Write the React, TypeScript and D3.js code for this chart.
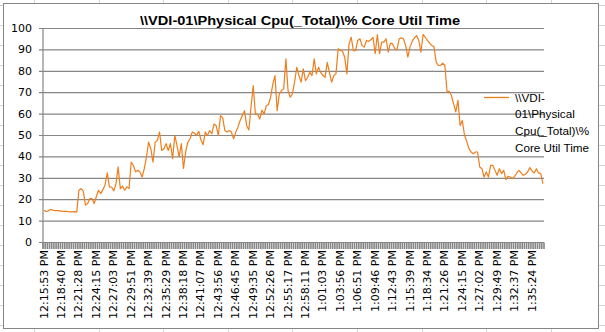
import React from 'react';
import * as d3 from 'd3';

const chartTitle = "\\\\VDI-01\\Physical Cpu(_Total)\\% Core Util Time";
const legendLines = ["\\\\VDI-", "01\\Physical", "Cpu(_Total)\\%", "Core Util Time"];

const timeLabels = [
  "12:15:53 PM", "12:18:40 PM", "12:21:28 PM", "12:24:15 PM", "12:27:03 PM", "12:29:51 PM",
  "12:32:39 PM", "12:35:29 PM", "12:38:18 PM", "12:41:07 PM", "12:43:56 PM", "12:46:45 PM",
  "12:49:35 PM", "12:52:26 PM", "12:55:17 PM", "12:58:11 PM", "1:01:03 PM", "1:03:56 PM",
  "1:06:51 PM", "1:09:46 PM", "1:12:43 PM", "1:15:39 PM", "1:18:34 PM", "1:21:26 PM",
  "1:24:15 PM", "1:27:02 PM", "1:29:49 PM", "1:32:37 PM", "1:35:24 PM",
];
const labelEvery = 8;

const cpuValues = [
  15, 14.5, 14.8, 15.4, 15.1, 14.9, 14.9, 14.8, 14.7, 14.5, 14.6, 14.4, 14.3, 14.3, 14.4, 14.3,
  24.4, 25.2, 24, 17.5, 18.2, 20.5, 20.5, 18.2, 21.5, 24.4, 22.8, 24.7, 27, 32.5,
  26, 25.9, 24.1, 27.5, 35.3, 25.2, 26.3, 24.4, 26, 25.2,
  37.6, 36, 33, 33.8, 33, 30.6, 34.5, 40, 46.9, 43.8,
  37.6, 46.9, 47.7, 51.6, 43, 43.8, 46.2, 43, 46.2, 39.2,
  50, 45.4, 40, 46.2, 34.6, 42.3, 46.9, 48.5, 51.6, 51.1,
  50, 52, 48, 45.7, 51.6, 50, 52.3, 50.8, 55.4, 54.6,
  50, 59.3, 58.2, 52.3, 51.6, 52.3, 51.6, 48.5, 51.6, 53.9,
  57, 59.3, 61.6, 54.6, 52.6, 63.2, 73.3, 60, 60, 57.7,
  61.9, 60, 63.9, 64.5, 67.9, 74, 78, 61.6, 69.4, 71,
  71.8, 85.8, 71, 67.9, 69.4, 74.9, 81.9, 78, 74.9, 81.1,
  75.6, 77.2, 79.5, 78, 85.8, 78.8, 81.9, 79.5, 78, 77.2,
  84.2, 79.5, 74.9, 78, 78.8, 90.5, 89.7, 89.4, 86.6, 78.8,
  92.8, 95.9, 89.7, 89.7, 94.4, 95.2, 92, 91.3, 94.4, 94,
  94.7, 95.9, 88.2, 97.2, 88.2, 93.6, 93.6, 95.2, 89, 93.2,
  92.8, 90.5, 90, 95.2, 95.6, 95.2, 92, 86.6, 91.3, 94,
  95.6, 96.7, 94.4, 89, 97.2, 95.9, 94.4, 93.2, 92, 91.6,
  84.3, 82.7, 82.7, 83.8, 82.7, 70.3, 70.7, 68.7, 64.8, 61,
  66.4, 54.7, 57, 50.2, 47.4, 44, 42.3, 41.5, 42.3, 42.3,
  35.3, 34.5, 30.6, 33, 30.6, 36, 36, 33.7, 31.4, 34.5,
  32.2, 33.7, 29.4, 30.9, 30.6, 29.8, 30.9, 32.5, 33.7, 32.5,
  31.4, 31.9, 33, 35, 33.4, 32.5, 34.5, 32.5, 32.2, 27.5,
];

const yTicks = [0, 10, 20, 30, 40, 50, 60, 70, 80, 90, 100];

const W = 605;
const H = 332;
const plotL = 43;
const plotR = 544;
const plotTop = 28.5;
const plotBottom = 242.5;
const gray = '#868686';
const orange = '#F07D1A';
const axisFont = '"DejaVu Sans", Verdana, sans-serif';
const textFont = '"Liberation Sans", Arial, sans-serif';

export default function App() {
  const idx = cpuValues.map((_, i) => i);
  const x = d3.scaleBand<number>().domain(idx).range([plotL, plotR]).padding(0);
  const xc = (i: number) => (x(i) as number) + x.bandwidth() / 2;
  const y = d3.scaleLinear().domain([0, 100]).range([plotBottom, plotTop]);

  const line = d3
    .line<number>()
    .x((_, i) => xc(i))
    .y((d) => y(d));

  const labelIdx = timeLabels.map((_, k) => k * labelEvery);

  // spreadsheet cell grid behind the chart
  const colLines = d3.range(34, W, 64.6);
  const rowLines = d3.range(5, H, 20);

  const tickBounds = idx.map((i) => x(i) as number).concat([plotR]);

  return (
    <svg width={W} height={H} style={{ position: 'absolute', left: 0, top: 0, background: '#fff' }}>
      {colLines.map((c, i) => (
        <line key={'c' + i} x1={Math.round(c) + 0.5} x2={Math.round(c) + 0.5} y1={0} y2={H} stroke="#D4D4D4" />
      ))}
      {rowLines.map((r, i) => (
        <line key={'r' + i} x1={0} x2={W} y1={r + 0.5} y2={r + 0.5} stroke="#D4D4D4" />
      ))}
      <rect x={3.5} y={3.5} width={595} height={325} fill="#fff" stroke={gray} strokeWidth={1} />

      <text
        x={300}
        y={25}
        textAnchor="middle"
        fontFamily={textFont}
        fontWeight="bold"
        fontSize={13.5}
        textLength={320}
        lengthAdjust="spacingAndGlyphs"
        fill="#000"
      >
        {chartTitle}
      </text>

      {yTicks.map((t) => (
        <g key={'y' + t}>
          <line x1={plotL - 4} x2={plotR} y1={y(t)} y2={y(t)} stroke={gray} strokeWidth={1.2} />
          <text
            x={32}
            y={y(t)}
            textAnchor="end"
            dominantBaseline="central"
            fontFamily={axisFont}
            fontSize={11}
            fill="#000"
          >
            {t}
          </text>
        </g>
      ))}

      <line x1={plotL} x2={plotL} y1={plotTop} y2={plotBottom + 6} stroke={gray} strokeWidth={1.2} />
      {tickBounds.map((b, i) => (
        <line key={'t' + i} x1={b} x2={b} y1={plotBottom} y2={plotBottom + 6.5} stroke={gray} strokeWidth={1.6} />
      ))}

      <path d={line(cpuValues) || ''} fill="none" stroke={orange} strokeWidth={1.2} strokeLinejoin="round" />

      {labelIdx.map((li, k) => (
        <text
          key={'xl' + k}
          transform={`translate(${xc(li)},250) rotate(-90)`}
          textAnchor="end"
          dominantBaseline="central"
          fontFamily={axisFont}
          fontSize={11}
          fill="#000"
        >
          {timeLabels[k]}
        </text>
      ))}

      <line x1={484} x2={509} y1={97.5} y2={97.5} stroke={orange} strokeWidth={1.3} />
      {legendLines.map((s, i) => (
        <text
          key={'lg' + i}
          x={515}
          y={97 + i * 16.8}
          dominantBaseline="central"
          fontFamily={textFont}
          fontSize={11.7}
          fill="#000"
        >
          {s}
        </text>
      ))}
    </svg>
  );
}
